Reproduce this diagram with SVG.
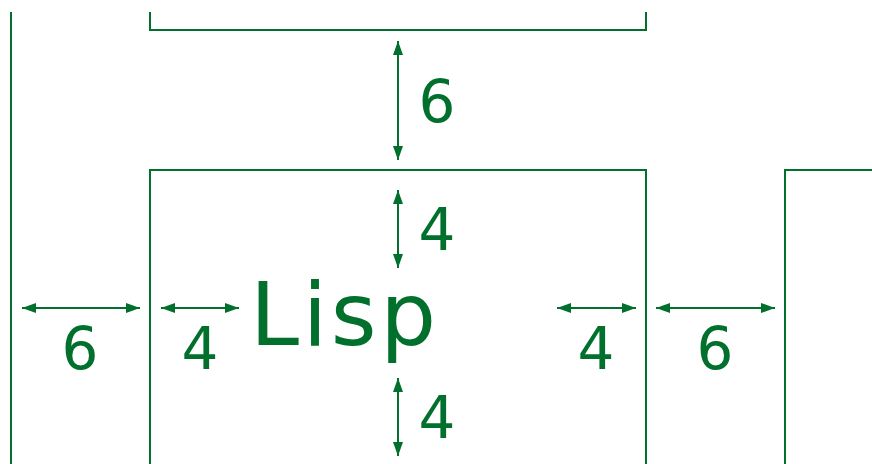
<svg xmlns="http://www.w3.org/2000/svg" width="872" height="464" viewBox="0 0 872 464">
<defs>
<marker id="ah" viewBox="0 0 14 10" refX="14" refY="5" markerWidth="14" markerHeight="10" markerUnits="userSpaceOnUse" orient="auto-start-reverse">
<path d="M0,0 L14,5 L0,10 z" fill="#00702c"/>
</marker>
<style>
.ln{fill:none;stroke:#00702c;stroke-width:2}
.ar{fill:none;stroke:#00702c;stroke-width:2;marker-start:url(#ah);marker-end:url(#ah)}
.num{font-family:"DejaVu Sans",sans-serif;font-size:58px;fill:#00702c;text-anchor:middle}
.big{font-family:"DejaVu Sans",sans-serif;font-size:88px;fill:#00702c}
</style>
</defs>
<rect width="872" height="464" fill="#ffffff"/>
<g id="outer"><path class="ln" d="M11,12 V464"/></g>
<g id="top-box"><path class="ln" d="M150,12 V30 H646 V12"/></g>
<g id="lisp-box">
<path class="ln" d="M150,464 V170 H646 V464"/>
<text class="big" x="250" y="345" textLength="186" lengthAdjust="spacing">Lisp</text>
</g>
<g id="right-box"><path class="ln" d="M785,464 V170 H872"/></g>
<g id="connectors">
<path class="ar" d="M398,41 V160"/>
<path class="ar" d="M398,190 V268"/>
<path class="ar" d="M398,378 V456"/>
<path class="ar" d="M22,308 H140"/>
<path class="ar" d="M161,308 H239"/>
<path class="ar" d="M557,308 H636"/>
<path class="ar" d="M656,308 H775"/>
</g>
<g id="labels">
<text class="num" x="437" y="122">6</text>
<text class="num" x="437" y="250">4</text>
<text class="num" x="437" y="438">4</text>
<text class="num" x="80" y="369">6</text>
<text class="num" x="200" y="369">4</text>
<text class="num" x="596" y="369">4</text>
<text class="num" x="715" y="369">6</text>
</g>
</svg>
